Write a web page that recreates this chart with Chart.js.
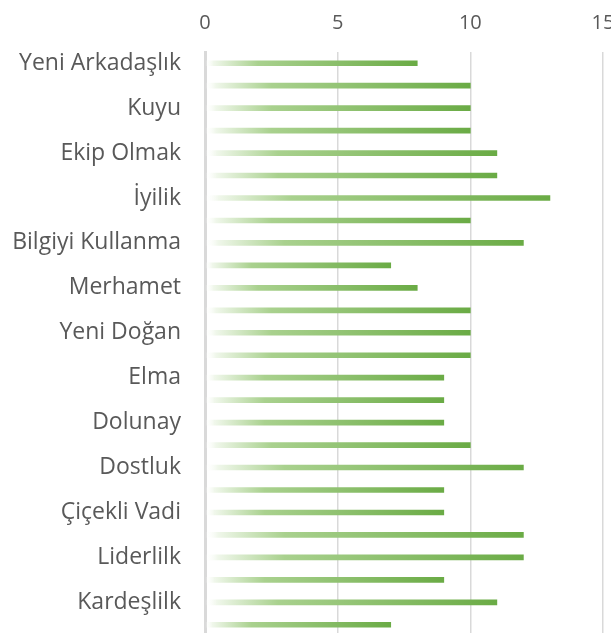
<!DOCTYPE html>
<html>
<head>
<meta charset="utf-8">
<script src="https://cdn.jsdelivr.net/npm/chart.js@4.4.1/dist/chart.umd.min.js"></script>
<style>
  html, body { margin: 0; padding: 0; background: #fff; overflow: hidden; }
  #wrap { width: 611px; height: 633px; overflow: hidden; }
</style>
</head>
<body>
<div id="wrap"><canvas id="grafico" width="611" height="637"></canvas></div>
<script>
// categorias (os rótulos intermediários não aparecem no gráfico)
var categorias = [
  "Yeni Arkadaşlık", "", "Kuyu", "", "Ekip Olmak", "", "İyilik", "",
  "Bilgiyi Kullanma", "", "Merhamet", "", "Yeni Doğan", "", "Elma", "",
  "Dolunay", "", "Dostluk", "", "Çiçekli Vadi", "", "Liderlilk", "",
  "Kardeşlilk", ""
]
var valores = [8, 10, 10, 10, 11, 11, 13, 10, 12, 7, 8, 10, 10, 10, 9, 9, 9, 10, 12, 9, 9, 12, 12, 9, 11, 7]
var ticksX = [0, 5, 10, 15]

var corTexto = "#595959"
var corGrade = "#d9d9d9"

function gradiente(ctx) {
  var chart = ctx.chart
  if (!chart.chartArea) return "#70ad47"
  var xs = chart.scales.x
  var x0 = xs.getPixelForValue(0)
  var x1 = xs.getPixelForValue(ctx.raw)
  var g = chart.ctx.createLinearGradient(x0, 0, x1, 0)
  g.addColorStop(0, "rgba(255,255,255,0)")
  g.addColorStop(0.04, "rgba(240,247,235,1)")
  g.addColorStop(0.25, "#a9d18e")
  g.addColorStop(1, "#6aab45")
  return g
}

new Chart(document.getElementById("grafico"), {
  type: "bar",
  data: {
    labels: categorias,
    datasets: [{ data: valores, backgroundColor: gradiente, barThickness: 5, borderWidth: 0 }]
  },
  options: {
    indexAxis: "y",
    responsive: false,
    animation: false,
    layout: { padding: { top: 0, right: 8, bottom: 1, left: 0 } },
    plugins: { legend: { display: false }, tooltip: { enabled: false } },
    scales: {
      x: {
        position: "top",
        min: 0, max: 15,
        afterBuildTicks: function(s) { s.ticks = ticksX.map(function(v) { return { value: v } }) },
        afterFit: function(s) { s.height = 52; s.paddingLeft = 0; s.paddingRight = 0 },
        ticks: { color: corTexto, font: { family: "Open Sans", size: 20 }, padding: 17, maxRotation: 0 },
        grid: {
          drawTicks: false,
          color: function(c) { return c.tick && c.tick.value === 0 ? "rgba(0,0,0,0)" : corGrade },
          lineWidth: 1.5
        },
        border: { display: false }
      },
      y: {
        afterFit: function(s) { s.width = 205; s.paddingTop = 0; s.paddingBottom = 0 },
        ticks: { color: corTexto, font: { family: "Open Sans", size: 23 }, padding: 24, autoSkip: false },
        grid: { display: false, drawTicks: false },
        border: { display: true, color: corGrade, width: 3 }
      }
    }
  }
})
</script>
</body>
</html>
